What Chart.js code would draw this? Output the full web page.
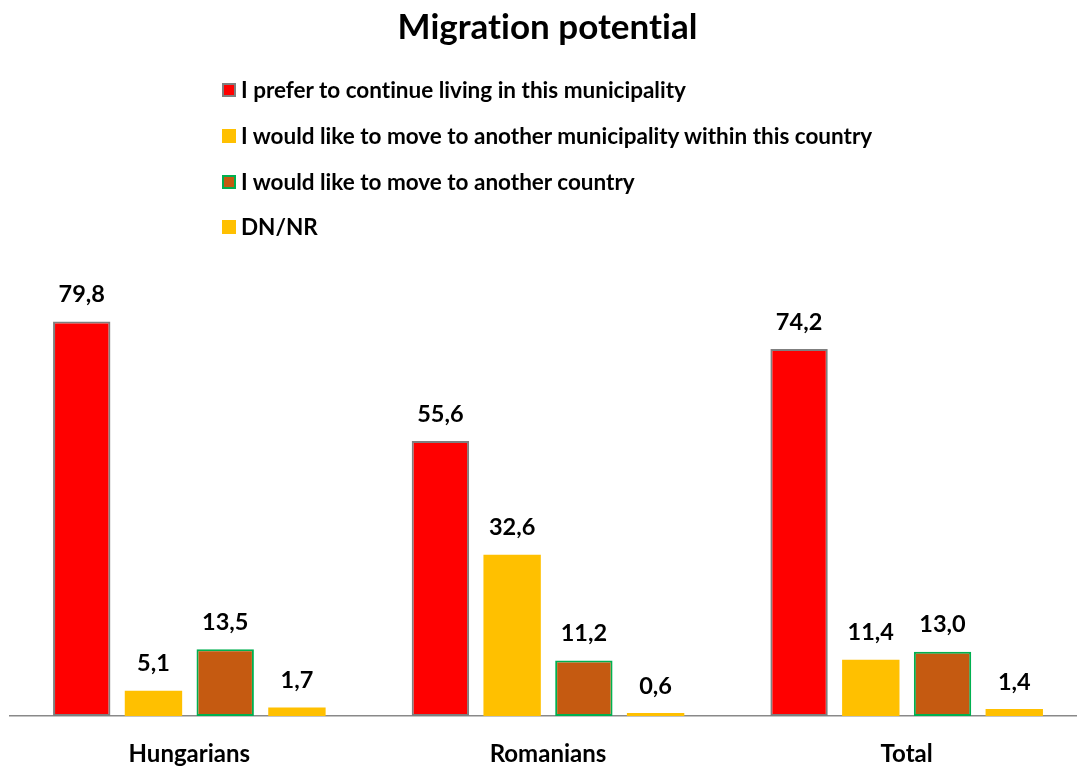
<!DOCTYPE html>
<html>
<head>
<meta charset="utf-8">
<script src="https://cdn.jsdelivr.net/npm/chart.js@4/dist/chart.umd.min.js"></script>
<style>
    html, body {
        margin: 0;
        padding: 0;
        background: #ffffff;
        overflow: hidden;
        width: 1077px;
        height: 767px;
        font-variant-ligatures: none;
    }

    #wrap {
        position: absolute;
        left: 0;
        top: 0;
        width: 1086px;
        height: 767px;
    }

    #title {
        position: absolute;
        left: 0;
        top: 0;
        width: 1095px;
        height: 50px;
        line-height: 50px;
        text-align: center;
        font-family: Lato, sans-serif;
        font-weight: bold;
        font-size: 35px;
        color: #000000;
    }

    #legend {
        position: absolute;
        left: 222px;
        top: 67px;
        font-family: Lato, sans-serif;
        font-weight: bold;
        font-size: 22.5px;
        color: #000000;
    }

    .legend-row {
        height: 45.7px;
        display: flex;
        align-items: center;
    }

    .legend-box {
        width: 14px;
        height: 14px;
        box-sizing: border-box;
        margin-right: 5px;
        margin-top: 1px;
    }
</style>
</head>
<body>
<div id="wrap">
    <canvas id="migrationChart" width="1086" height="767"></canvas>
</div>
<div id="title">Migration potential</div>
<div id="legend"></div>

<script>
const categories = ["Hungarians", "Romanians", "Total"];

const seriesNames = [
    "I prefer to continue living in this municipality",
    "I would like to move to another municipality within this country",
    "I would like to move to another country",
    "DN/NR"
];

const stayValues = [79.8, 55.6, 74.2];
const otherMunicipalityValues = [5.1, 32.6, 11.4];
const otherCountryValues = [13.5, 11.2, 13.0];
const dnnrValues = [1.7, 0.6, 1.4];

const fillColors = ["#ff0000", "#ffc000", "#c55a11", "#ffc000"];
const edgeColors = ["#7f7f7f", "#ffc000", "#00b050", "#ffc000"];
const edgeWidths = [2, 0, 2, 0];

const formatValue = (value) => {
    return value.toFixed(1).replace(".", ",");
};

const buildLegend = () => {
    const legend = document.querySelector("#legend");

    for (let i = 0; i < seriesNames.length; i++) {
        const row = document.createElement("div");
        row.className = "legend-row";

        const box = document.createElement("span");
        box.className = "legend-box";
        box.style.background = fillColors[i];
        if (edgeWidths[i] > 0) {
            box.style.border = `2px solid ${edgeColors[i]}`;
        }

        const text = document.createElement("span");
        text.textContent = seriesNames[i];

        row.appendChild(box);
        row.appendChild(text);
        legend.appendChild(row);
    }
};

// values above each bar, with comma decimals
const valueLabels = {
    id: "valueLabels",
    afterDatasetsDraw(chart) {
        const ctx = chart.ctx;
        ctx.save();
        ctx.font = "bold 23.5px Lato, sans-serif";
        ctx.fillStyle = "#000000";
        ctx.textAlign = "center";
        ctx.textBaseline = "middle";

        chart.data.datasets.forEach((dataset, i) => {
            const meta = chart.getDatasetMeta(i);
            meta.data.forEach((bar, j) => {
                ctx.fillText(formatValue(dataset.data[j]), bar.x, bar.y - 27);
            });
        });

        ctx.restore();
    }
};

const allValues = [stayValues, otherMunicipalityValues, otherCountryValues, dnnrValues];

const datasets = [];

for (let i = 0; i < seriesNames.length; i++) {
    datasets.push({
        label: seriesNames[i],
        data: allValues[i],
        backgroundColor: fillColors[i],
        borderColor: edgeColors[i],
        borderWidth: edgeWidths[i],
        borderSkipped: false,
        categoryPercentage: 0.8,
        barPercentage: 0.8
    });
}

buildLegend();

new Chart(document.querySelector("#migrationChart"), {
    type: "bar",
    data: {
        labels: categories,
        datasets: datasets
    },
    plugins: [valueLabels],
    options: {
        responsive: false,
        animation: false,
        devicePixelRatio: 1,
        layout: {
            padding: {
                top: 271,
                left: 10,
                right: 0,
                bottom: 0
            }
        },
        plugins: {
            legend: { display: false },
            title: { display: false },
            tooltip: { enabled: false }
        },
        scales: {
            x: {
                grid: { display: false },
                border: {
                    display: true,
                    color: "#898989",
                    width: 1.5
                },
                ticks: {
                    color: "#000000",
                    padding: 16,
                    font: {
                        family: "Lato, sans-serif",
                        weight: "bold",
                        size: 24
                    }
                },
                afterFit: (axis) => {
                    axis.height = 51;
                }
            },
            y: {
                display: false,
                min: 0,
                max: 90
            }
        }
    }
});
</script>
</body>
</html>
